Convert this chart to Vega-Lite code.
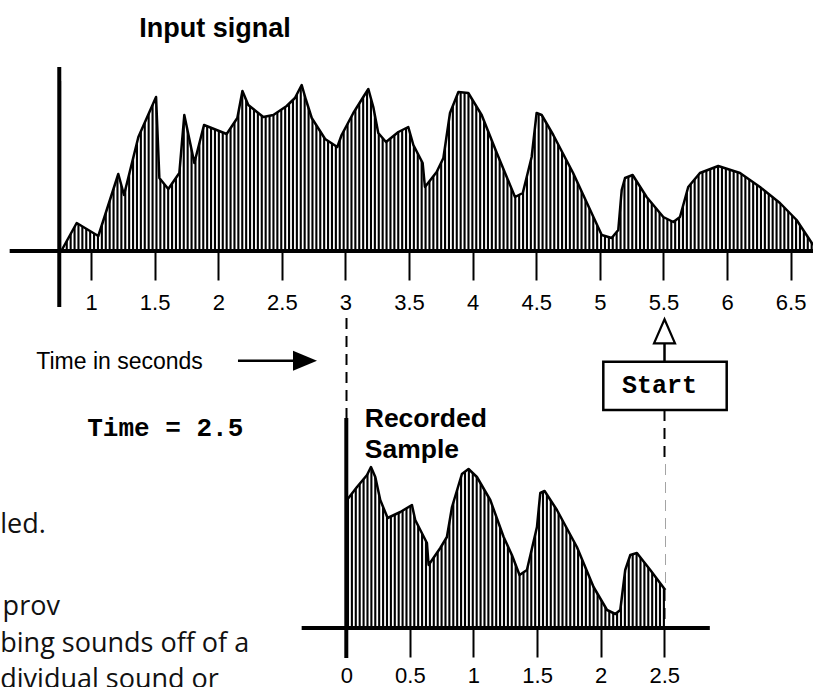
{
  "$schema": "https://vega.github.io/schema/vega-lite/v6.json",
  "width": 813,
  "height": 687,
  "autosize": {"type": "none"},
  "padding": 0,
  "background": "white",
  "config": {
    "view": {"stroke": null},
    "axis": {"grid": false, "domain": false, "tickColor": "black", "tickWidth": 2, "tickSize": 29, "labelFont": "Liberation Sans", "labelFontSize": 22, "labelColor": "black", "labelPadding": 12, "labelFlush": false, "labelOverlap": false, "labelBound": false}
  },
  "resolve": {"scale": {"x": "independent", "y": "independent"}, "axis": {"x": "independent", "y": "independent"}},
  "layer": [
    {
      "data": {"name": "input_signal", "values": [
        {"t": 0.77, "v": 1}, {"t": 0.887, "v": 28}, {"t": 1.057, "v": 15}, {"t": 1.214, "v": 77}, {"t": 1.259, "v": 56},
        {"t": 1.372, "v": 114}, {"t": 1.511, "v": 154}, {"t": 1.537, "v": 73}, {"t": 1.607, "v": 62}, {"t": 1.694, "v": 78},
        {"t": 1.733, "v": 136}, {"t": 1.812, "v": 88}, {"t": 1.888, "v": 126}, {"t": 2.066, "v": 117}, {"t": 2.15, "v": 133},
        {"t": 2.19, "v": 160}, {"t": 2.236, "v": 146}, {"t": 2.354, "v": 134}, {"t": 2.433, "v": 136}, {"t": 2.538, "v": 145},
        {"t": 2.603, "v": 153}, {"t": 2.656, "v": 166}, {"t": 2.69, "v": 151}, {"t": 2.735, "v": 133}, {"t": 2.84, "v": 112},
        {"t": 2.936, "v": 104}, {"t": 2.97, "v": 116}, {"t": 3.062, "v": 138}, {"t": 3.14, "v": 154}, {"t": 3.18, "v": 162},
        {"t": 3.219, "v": 144}, {"t": 3.258, "v": 118}, {"t": 3.319, "v": 109}, {"t": 3.416, "v": 119}, {"t": 3.494, "v": 124},
        {"t": 3.534, "v": 106}, {"t": 3.607, "v": 88}, {"t": 3.625, "v": 64}, {"t": 3.717, "v": 79}, {"t": 3.77, "v": 93},
        {"t": 3.822, "v": 138}, {"t": 3.888, "v": 159}, {"t": 3.966, "v": 158}, {"t": 4.071, "v": 136}, {"t": 4.19, "v": 98},
        {"t": 4.268, "v": 74}, {"t": 4.333, "v": 54}, {"t": 4.394, "v": 58}, {"t": 4.464, "v": 94}, {"t": 4.503, "v": 138},
        {"t": 4.543, "v": 136}, {"t": 4.634, "v": 116}, {"t": 4.79, "v": 78}, {"t": 5.015, "v": 16}, {"t": 5.093, "v": 13},
        {"t": 5.145, "v": 21}, {"t": 5.172, "v": 61}, {"t": 5.198, "v": 73}, {"t": 5.258, "v": 76}, {"t": 5.368, "v": 54},
        {"t": 5.499, "v": 34}, {"t": 5.578, "v": 29}, {"t": 5.63, "v": 34}, {"t": 5.695, "v": 64}, {"t": 5.787, "v": 78},
        {"t": 5.931, "v": 85}, {"t": 6.102, "v": 78}, {"t": 6.259, "v": 64}, {"t": 6.416, "v": 48}, {"t": 6.547, "v": 31},
        {"t": 6.677, "v": 6}
      ]},
      "layer": [
        {
          "mark": {"type": "rule", "color": "black", "strokeWidth": 170, "strokeDash": [2.1, 1.8], "strokeCap": "butt"},
          "encoding": {
            "x": {"aggregate": "min", "field": "t", "type": "quantitative", "scale": {"domain": [0.284, 6.676], "nice": false, "zero": false}},
            "x2": {"aggregate": "max", "field": "t"},
            "y": {"datum": 85, "type": "quantitative", "scale": {"domain": [-436, 251], "nice": false, "zero": false}, "axis": null}
          }
        },
        {
          "mark": {"type": "area", "color": "white", "opacity": 1},
          "encoding": {
            "x": {"field": "t", "type": "quantitative"},
            "y": {"field": "v", "type": "quantitative", "axis": null},
            "y2": {"datum": 172}
          }
        },
        {
          "mark": {"type": "line", "color": "black", "strokeWidth": 2.5, "strokeJoin": "round"},
          "encoding": {
            "x": {"field": "t", "type": "quantitative", "axis": {"orient": "bottom", "offset": -436, "values": [1, 1.5, 2, 2.5, 3, 3.5, 4, 4.5, 5, 5.5, 6, 6.5], "format": "~g", "title": null, "labelPadding": 12}},
            "y": {"field": "v", "type": "quantitative", "axis": null}
          }
        },
        {
          "data": {"values": [{}]},
          "mark": {"type": "rule", "color": "black", "strokeWidth": 4},
          "encoding": {"x": {"datum": 0.36}, "x2": {"datum": 6.676}, "y": {"datum": 0, "axis": null}}
        },
        {
          "data": {"values": [{}]},
          "mark": {"type": "rule", "color": "black", "strokeWidth": 4},
          "encoding": {"x": {"datum": 0.75}, "y": {"datum": 184, "axis": null}, "y2": {"datum": -56}}
        },
        {
          "data": {"values": [{}]},
          "mark": {"type": "text", "font": "Liberation Sans", "fontSize": 27, "fontWeight": "bold", "align": "center", "baseline": "alphabetic", "color": "black"},
          "encoding": {"x": {"datum": 1.974}, "y": {"datum": 214.3, "axis": null}, "text": {"value": "Input signal"}}
        },
        {
          "data": {"values": [{}]},
          "mark": {"type": "text", "font": "Liberation Sans", "fontSize": 23, "align": "left", "baseline": "alphabetic", "color": "black"},
          "encoding": {"x": {"datum": 0.569}, "y": {"datum": -118.3, "axis": null}, "text": {"value": "Time in seconds"}}
        },
        {
          "data": {"values": [{}]},
          "mark": {"type": "rule", "color": "black", "strokeWidth": 2.5},
          "encoding": {"x": {"datum": 2.155}, "x2": {"datum": 2.611}, "y": {"datum": -109.7, "axis": null}}
        },
        {
          "data": {"values": [{}]},
          "mark": {"type": "point", "shape": "M-1,-0.83L1,0L-1,0.83Z", "filled": true, "color": "black", "opacity": 1, "size": 576},
          "encoding": {"x": {"datum": 2.682}, "y": {"datum": -109.7, "axis": null}}
        },
        {
          "data": {"values": [{}]},
          "mark": {"type": "rule", "color": "black", "strokeWidth": 2, "strokeDash": [11, 7]},
          "encoding": {"x": {"datum": 3.0083}, "y": {"datum": -67, "axis": null}, "y2": {"datum": -167}}
        },
        {
          "data": {"values": [{}]},
          "mark": {"type": "rule", "color": "black", "strokeWidth": 2, "strokeDash": [11, 7]},
          "encoding": {"x": {"datum": 5.5085}, "y": {"datum": -159, "axis": null}, "y2": {"datum": -377}}
        },
        {
          "data": {"values": [{}]},
          "mark": {"type": "rect", "fill": "white", "stroke": "black", "strokeWidth": 2.5},
          "encoding": {"x": {"datum": 5.0273}, "x2": {"datum": 5.9975}, "y": {"datum": -110.7, "axis": null}, "y2": {"datum": -159}}
        },
        {
          "data": {"values": [{}]},
          "mark": {"type": "text", "font": "Liberation Mono", "fontSize": 25, "fontWeight": "bold", "align": "center", "baseline": "alphabetic", "color": "black"},
          "encoding": {"x": {"datum": 5.4692}, "y": {"datum": -142.3, "axis": null}, "text": {"value": "Start"}}
        },
        {
          "data": {"values": [{}]},
          "mark": {"type": "rule", "color": "black", "strokeWidth": 2.5},
          "encoding": {"x": {"datum": 5.5085}, "y": {"datum": -92.3, "axis": null}, "y2": {"datum": -110.7}}
        },
        {
          "data": {"values": [{}]},
          "mark": {"type": "point", "shape": "M0,-1L0.875,1L-0.875,1Z", "filled": true, "fill": "white", "stroke": "black", "strokeWidth": 2.2, "opacity": 1, "size": 576},
          "encoding": {"x": {"datum": 5.5085}, "y": {"datum": -80.3, "axis": null}}
        },
        {
          "data": {"values": [{}]},
          "mark": {"type": "text", "font": "Liberation Mono", "fontSize": 26, "fontWeight": "bold", "align": "left", "baseline": "alphabetic", "color": "black"},
          "encoding": {"x": {"datum": 0.97}, "y": {"datum": -185, "axis": null}, "text": {"value": "Time = 2.5"}}
        },
        {
          "data": {"values": [{}]},
          "mark": {"type": "text", "font": "Open Sans", "fontSize": 27, "align": "left", "baseline": "alphabetic", "color": "#111111"},
          "encoding": {"x": {"datum": 0.286}, "y": {"datum": -282.3, "axis": null}, "text": {"value": "led."}}
        },
        {
          "data": {"values": [{}]},
          "mark": {"type": "text", "font": "Open Sans", "fontSize": 27, "align": "left", "baseline": "alphabetic", "color": "#111111"},
          "encoding": {"x": {"datum": 0.3045}, "y": {"datum": -364, "axis": null}, "text": {"value": "prov"}}
        },
        {
          "data": {"values": [{}]},
          "mark": {"type": "text", "font": "Open Sans", "fontSize": 27, "align": "left", "baseline": "alphabetic", "color": "#111111", "lineBreak": "\n", "lineHeight": 36.7},
          "encoding": {"x": {"datum": 0.286}, "y": {"datum": -400.7, "axis": null}, "text": {"value": "bing sounds off of a\ndividual sound or"}}
        }
      ]
    },
    {
      "data": {"name": "recorded_sample", "values": [
        {"t": 0.005, "v": 128}, {"t": 0.084, "v": 141}, {"t": 0.163, "v": 153}, {"t": 0.194, "v": 161}, {"t": 0.228, "v": 151},
        {"t": 0.267, "v": 128}, {"t": 0.325, "v": 110}, {"t": 0.425, "v": 116}, {"t": 0.516, "v": 123}, {"t": 0.542, "v": 108},
        {"t": 0.634, "v": 85}, {"t": 0.647, "v": 63}, {"t": 0.739, "v": 80}, {"t": 0.791, "v": 91}, {"t": 0.831, "v": 121},
        {"t": 0.909, "v": 154}, {"t": 0.961, "v": 159}, {"t": 1.027, "v": 151}, {"t": 1.132, "v": 128}, {"t": 1.237, "v": 91},
        {"t": 1.302, "v": 73}, {"t": 1.362, "v": 53}, {"t": 1.42, "v": 58}, {"t": 1.499, "v": 101}, {"t": 1.525, "v": 135},
        {"t": 1.559, "v": 137}, {"t": 1.656, "v": 118}, {"t": 1.813, "v": 81}, {"t": 1.944, "v": 41}, {"t": 2.05, "v": 18},
        {"t": 2.115, "v": 14}, {"t": 2.154, "v": 18}, {"t": 2.193, "v": 58}, {"t": 2.233, "v": 73}, {"t": 2.285, "v": 75},
        {"t": 2.39, "v": 58}, {"t": 2.508, "v": 38}
      ]},
      "layer": [
        {
          "mark": {"type": "rule", "color": "black", "strokeWidth": 166, "strokeDash": [2.1, 1.8], "strokeCap": "butt"},
          "encoding": {
            "x": {"aggregate": "min", "field": "t", "type": "quantitative", "scale": {"domain": [-2.7227, 3.6693], "nice": false, "zero": false}},
            "x2": {"aggregate": "max", "field": "t"},
            "y": {"datum": 83, "type": "quantitative", "scale": {"domain": [-59, 628], "nice": false, "zero": false}, "axis": null}
          }
        },
        {
          "mark": {"type": "area", "color": "white", "opacity": 1},
          "encoding": {
            "x": {"field": "t", "type": "quantitative"},
            "y": {"field": "v", "type": "quantitative", "axis": null},
            "y2": {"datum": 168}
          }
        },
        {
          "mark": {"type": "line", "color": "black", "strokeWidth": 2.5, "strokeJoin": "round"},
          "encoding": {
            "x": {"field": "t", "type": "quantitative", "axis": {"orient": "bottom", "offset": -59, "values": [0, 0.5, 1, 1.5, 2, 2.5], "format": "~g", "title": null, "labelPadding": 8}},
            "y": {"field": "v", "type": "quantitative", "axis": null}
          }
        },
        {
          "data": {"values": [{}]},
          "mark": {"type": "rule", "color": "black", "strokeWidth": 4},
          "encoding": {"x": {"datum": -0.351}, "x2": {"datum": 2.858}, "y": {"datum": 0, "axis": null}}
        },
        {
          "data": {"values": [{}]},
          "mark": {"type": "rule", "color": "black", "strokeWidth": 4},
          "encoding": {"x": {"datum": 0.0}, "y": {"datum": 210, "axis": null}, "y2": {"datum": -30}}
        },
        {
          "data": {"values": [{}]},
          "mark": {"type": "text", "font": "Liberation Sans", "fontSize": 26.5, "fontWeight": "bold", "align": "left", "baseline": "alphabetic", "color": "black", "lineBreak": "\n", "lineHeight": 31},
          "encoding": {"x": {"datum": 0.145}, "y": {"datum": 201.3, "axis": null}, "text": {"value": "Recorded\nSample"}}
        }
      ]
    }
  ]
}
